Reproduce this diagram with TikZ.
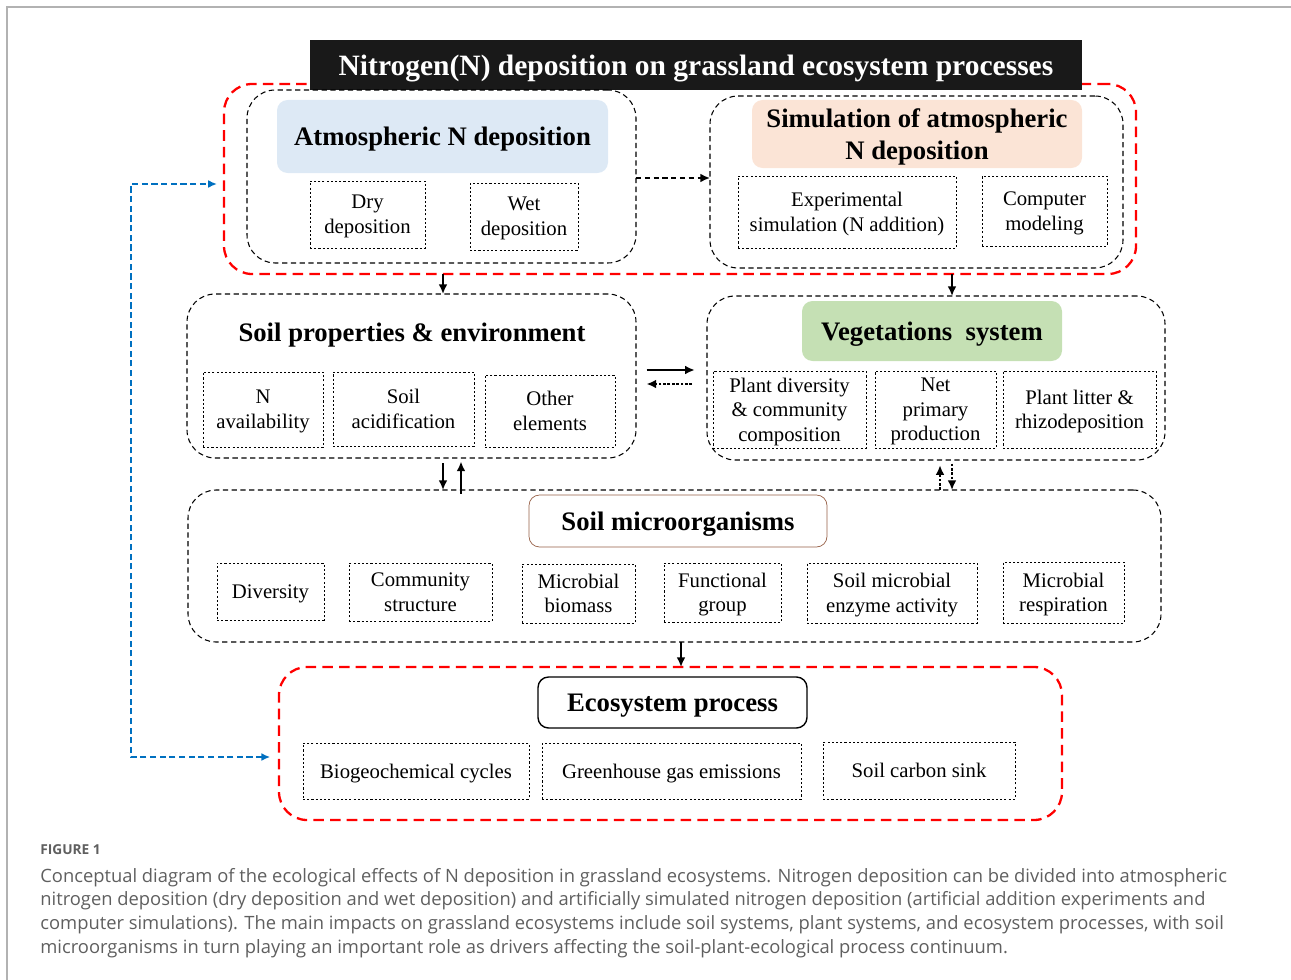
\documentclass[tikz,border=0pt]{standalone}
\usepackage{fontspec}
\setmainfont{Liberation Serif}
\newfontfamily\capfont{Open Sans}
\usetikzlibrary{arrows.meta}
\definecolor{ndred}{RGB}{255,0,0}
\definecolor{ndblue}{RGB}{0,112,192}
\definecolor{ndsky}{RGB}{221,233,245}
\definecolor{ndpeach}{RGB}{251,228,214}
\definecolor{ndgreen}{RGB}{197,224,180}
\definecolor{ndbrown}{RGB}{150,95,70}
\definecolor{ndgray}{RGB}{95,95,95}

% box given by its pixel corners: name, style, x1, y1, x2, y2, text
\newcommand{\pbox}[7]{%
  \node[#2, inner sep=0pt, outer sep=0pt,
    minimum width={(#5-#3)*0.02cm}, minimum height={(#6-#4)*0.02cm}]
    (#1) at ({(#3+#5)/2},{(#4+#6)/2}) {#7};}

\tikzset{
  outerbox/.style={draw=ndred, line width=1.3pt, dash pattern=on 6pt off 3.5pt, rounded corners=16pt},
  groupbox/.style={draw, line width=0.6pt, dash pattern=on 3pt off 2pt, rounded corners=16pt},
  itembox/.style={draw, line width=0.5pt, dash pattern=on 1.2pt off 1.2pt, align=center,
    text depth=0pt, font=\fontsize{11.8}{14}\selectfont},
  headbox/.style={rounded corners=6pt, align=center, text depth=0pt, font=\fontsize{15.2}{18}\selectfont\bfseries},
  arr/.style={line width=1pt, -{Latex[length=5.5pt,width=5pt]}},
  dotarr/.style={arr, dash pattern=on 1.5pt off 1pt},
  dasharr/.style={arr, dash pattern=on 3pt off 2pt},
  bluelink/.style={draw=ndblue, line width=1pt, dash pattern=on 3.5pt off 2pt,
    {Latex[length=5pt,width=4.5pt]}-{Latex[length=5pt,width=4.5pt]}}
}

\begin{document}
\begin{tikzpicture}[x=0.02cm, y=-0.02cm]
  \useasboundingbox (0,0) rectangle (1291,980);
  \draw[black!30, line width=0.8pt] (7,980) -- (7,7) -- (1291,7);

  % atmospheric deposition
  \pbox{outer}{outerbox}{224}{84}{1136}{274}{}
  \pbox{title}{fill={black!90}, text=white, text depth=0pt, font=\fontsize{16.8}{18}\selectfont\bfseries}{310}{40}{1082}{90}{Nitrogen(N) deposition on grassland ecosystem processes}
  \pbox{atm}{groupbox}{247}{90}{636}{263}{}
  \pbox{atmhead}{headbox, fill=ndsky}{277}{100}{608}{173}{Atmospheric N deposition}
  \pbox{dry}{itembox}{310}{181}{425}{248}{Dry\\deposition}
  \pbox{wet}{itembox}{470}{183}{578}{250}{Wet\\deposition}
  \pbox{sim}{groupbox}{710}{96}{1123}{268}{}
  \pbox{simhead}{headbox, fill=ndpeach}{752}{100}{1082}{168}{Simulation of atmospheric\\N deposition}
  \pbox{expt}{itembox}{738}{176}{956}{248}{Experimental\\simulation (N addition)}
  \pbox{model}{itembox}{982}{176}{1107}{246}{Computer\\modeling}

  % soil and vegetation
  \pbox{soil}{groupbox}{187}{294}{636}{458}{}
  \node[font=\fontsize{15.2}{18}\selectfont\bfseries] (soilhead) at (412,335) {Soil properties \& environment};
  \pbox{navail}{itembox}{203}{372}{323}{447}{N\\availability}
  \pbox{acid}{itembox}{333}{372}{474}{446}{Soil\\acidification}
  \pbox{other}{itembox}{485}{375}{615}{447}{Other\\elements}
  \pbox{veg}{groupbox}{707}{296}{1165}{460}{}
  \pbox{veghead}{headbox, fill=ndgreen}{802}{301}{1062}{361}{Vegetations\ \ system}
  \pbox{pdiv}{itembox}{713}{371}{866}{448}{Plant diversity\\\& community\\composition}
  \pbox{npp}{itembox}{875}{371}{996}{448}{Net\\primary\\production}
  \pbox{litter}{itembox}{1003}{371}{1156}{448}{Plant litter \&\\rhizodeposition}

  % soil microorganisms
  \pbox{micro}{groupbox}{188}{490}{1161}{642}{}
  \pbox{microhead}{headbox, draw=ndbrown, fill=white}{529}{495}{827}{547}{Soil microorganisms}
  \pbox{mdiv}{itembox}{217}{563}{324}{620}{Diversity}
  \pbox{mcom}{itembox}{349}{563}{492}{621}{Community\\structure}
  \pbox{mbio}{itembox}{522}{564}{635}{623}{Microbial\\biomass}
  \pbox{mfun}{itembox}{664}{563}{781}{622}{Functional\\group}
  \pbox{menz}{itembox}{807}{563}{977}{623}{Soil microbial\\enzyme activity}
  \pbox{mres}{itembox}{1003}{562}{1124}{623}{Microbial\\respiration}

  % ecosystem process
  \pbox{eco}{outerbox}{279}{667}{1062}{820}{}
  \pbox{ecohead}{headbox, draw, line width=0.8pt, fill=white}{538}{677}{807}{728}{Ecosystem process}
  \pbox{bgc}{itembox}{303}{743}{529}{799}{Biogeochemical cycles}
  \pbox{ghg}{itembox}{542}{743}{801}{799}{Greenhouse gas emissions}
  \pbox{sink}{itembox}{823}{742}{1015}{799}{Soil carbon sink}

  % connectors
  \coordinate (xa) at (443,0);
  \coordinate (xb) at (952,0);
  \coordinate (xc) at (461,0);
  \coordinate (xd) at (940,0);
  \coordinate (xe) at (681,0);
  \draw[dasharr] (atm.east |- 0,178) -- (sim.west |- 0,178);
  \draw[arr] (outer.south -| xa) -- (soil.north -| xa);
  \draw[arr] (outer.south -| xb) -- (veg.north -| xb);
  \draw[arr] ([xshift=6pt]soil.east |- 0,370) -- ([xshift=-7pt]veg.west |- 0,370);
  \draw[dotarr] ([xshift=-8.5pt]veg.west |- 0,384) -- ([xshift=6pt]soil.east |- 0,384);
  \draw[arr] ([yshift=-3pt]soil.south -| xa) -- (micro.north -| xa);
  \draw[arr] ([yshift=-2pt]micro.north -| xc) -- ([yshift=-2pt]soil.south -| xc);
  \draw[dotarr] (micro.north -| xd) -- ([yshift=-3pt]veg.south -| xd);
  \draw[dotarr] ([yshift=-2pt]veg.south -| xb) -- (micro.north -| xb);
  \draw[arr] (micro.south -| xe) -- (eco.north -| xe);
  \coordinate (btop) at ([xshift=-4pt]outer.west |- 0,184);
  \coordinate (bbot) at ([xshift=-5pt]eco.west |- 0,757);
  \draw[bluelink] (bbot) -| (131,184) -- (btop);

  % caption
  \node[anchor=north west, inner sep=0pt, text=ndgray, font=\capfont\fontsize{7.8}{9}\selectfont\bfseries] (figlabel) at (40,844) {FIGURE 1};
  \node[anchor=north west, inner sep=0pt, align=left, text=ndgray, font=\capfont\fontsize{10.45}{13.4}\selectfont] (caption) at (40,868)
    {Conceptual diagram of the ecological effects of N deposition in grassland ecosystems. Nitrogen deposition can be divided into atmospheric\\
     nitrogen deposition (dry deposition and wet deposition) and artificially simulated nitrogen deposition (artificial addition experiments and\\
     computer simulations). The main impacts on grassland ecosystems include soil systems, plant systems, and ecosystem processes, with soil\\
     microorganisms in turn playing an important role as drivers affecting the soil-plant-ecological process continuum.};
\end{tikzpicture}
\end{document}
